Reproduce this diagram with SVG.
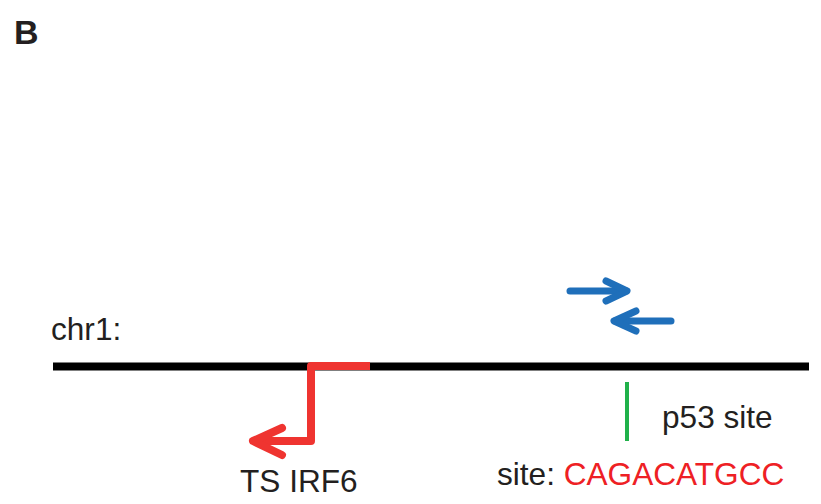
<svg xmlns="http://www.w3.org/2000/svg" width="821" height="504" viewBox="0 0 821 504">
<style>
text{font-family:"Liberation Sans",Arial,sans-serif;fill:#231f20}
.lbl{font-size:31.6px}
.red{stroke:#ef3430;fill:none;stroke-width:8;stroke-linecap:round;stroke-linejoin:round}
.blue{stroke:#1f6fba;fill:none;stroke-width:7;stroke-linecap:round;stroke-linejoin:round}
</style>
<rect width="821" height="504" fill="#fff"/>
<text x="14" y="44" style="font-size:34px;font-weight:bold">B</text>
<g id="chromosome">
<line x1="53" y1="366.5" x2="809" y2="366.5" stroke="#000" stroke-width="8"/>
<text class="lbl" x="51" y="340">chr1:</text>
</g>
<g id="connectors">
<g id="tss-arrow">
<path class="red" d="M370 366 H311 V441 H253" style="stroke-linecap:butt"/>
<path class="red" d="M282 428 L253 441 L282 455"/>
</g>
<g id="primer-forward">
<path class="blue" d="M570 291 H626"/>
<path class="blue" d="M606 281 L627 291 L606 301"/>
</g>
<g id="primer-reverse">
<path class="blue" d="M671 321 H615"/>
<path class="blue" d="M636 311 L614 321 L636 331"/>
</g>
</g>
<g id="p53-site">
<line x1="627" y1="382" x2="627" y2="441" stroke="#20b14a" stroke-width="4"/>
<text class="lbl" x="662" y="428">p53 site</text>
</g>
<g id="ts-label">
<text class="lbl" x="240" y="492">TS IRF6</text>
</g>
<g id="site-seq">
<text class="lbl" x="497" y="485">site: <tspan style="fill:#ee2024">CAGACATGCC</tspan></text>
</g>
</svg>
